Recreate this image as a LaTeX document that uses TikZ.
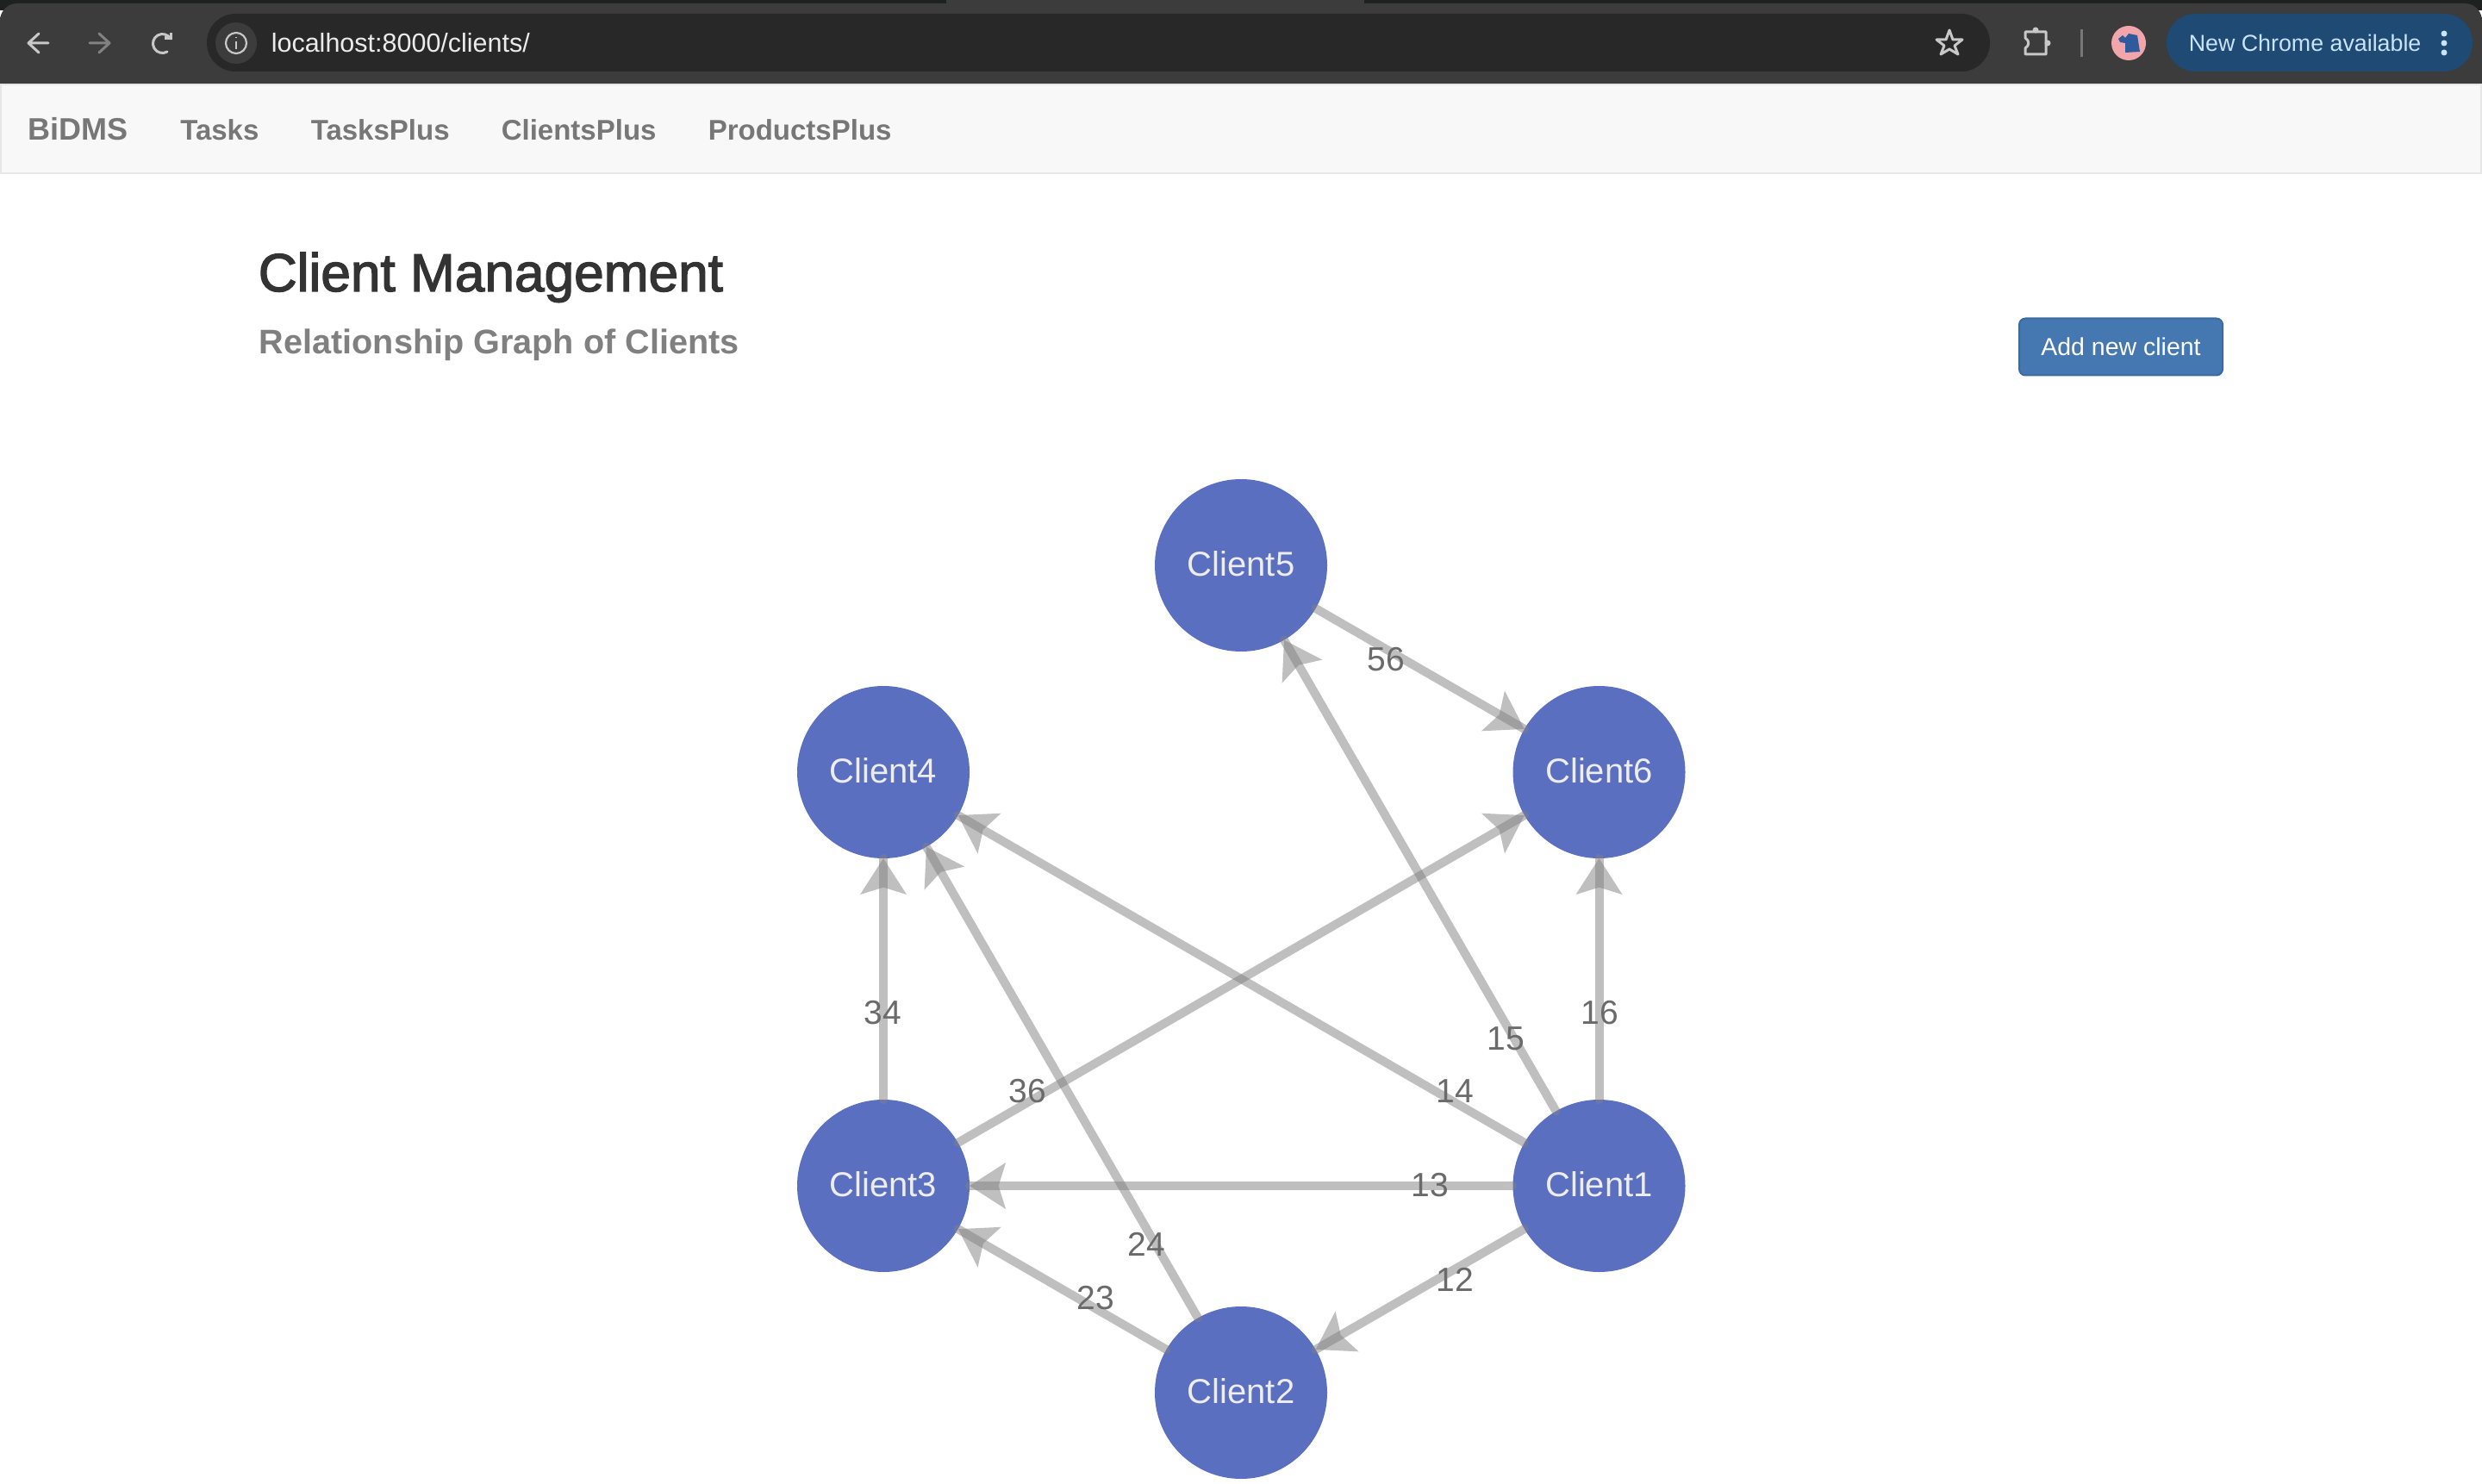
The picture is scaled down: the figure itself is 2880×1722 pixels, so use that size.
\documentclass[tikz,border=0pt]{standalone}
\usepackage{fontspec}
\setmainfont{Liberation Sans}
\newfontfamily\titlefont[FakeBold=2.2]{Liberation Sans}
\usetikzlibrary{arrows.meta,decorations.markings}
\definecolor{stripc}{HTML}{1F2120}
\definecolor{barc}{HTML}{3C3C3C}
\definecolor{urlc}{HTML}{282828}
\definecolor{navc}{HTML}{F8F8F8}
\definecolor{navb}{HTML}{E7E7E7}
\definecolor{navt}{HTML}{777777}
\definecolor{nodec}{HTML}{5A6FC0}
\definecolor{labelc}{HTML}{6A6A6A}
\definecolor{iconc}{HTML}{C8C8C8}
\definecolor{pillc}{HTML}{1E4A73}
\definecolor{pillt}{HTML}{C8E3FA}
\definecolor{btnc}{HTML}{4577B0}
\definecolor{btnb}{HTML}{3B6A9E}
\definecolor{avatarc}{HTML}{F2A5AB}
\definecolor{elephc}{HTML}{2F5A9C}
\newcommand{\pxf}[1]{\fontsize{\dimexpr#1pt/4\relax}{\dimexpr#1pt/4\relax}\selectfont}
\tikzset{
  client/.style={circle,fill=nodec,text=white!93!black,inner sep=0pt,outer sep=0pt,minimum size=50pt,text height=7.3pt,text depth=1pt,font=\pxf{40}},
  edgelabel/.style={text=labelc,inner sep=0pt,font=\pxf{39}},
  edge/.style={draw=gray,draw opacity=.5,line width=2.5pt,line cap=round,
    postaction={decorate,decoration={markings,mark=at position 0.9999 with
      {\fill[gray,opacity=.5] (0pt,0pt) -- (-10.5pt,6.75pt) -- (-8.4pt,0pt) -- (-10.5pt,-6.75pt) -- cycle;}}}},
  navitem/.style={anchor=base west,text=navt,inner sep=0pt,font=\bfseries\pxf{33}},
  icon/.style={draw=iconc,line width=.75pt,line cap=round,line join=round},
}
\begin{document}
\begin{tikzpicture}[x=.25pt,y=-.25pt]
\useasboundingbox (0,0) rectangle (2880,1722);
\fill[white] (0,0) rectangle (2880,1722);
% browser chrome
\fill[stripc] (0,0) rectangle (1098,12);
\fill[stripc] (1583,0) rectangle (2880,12);
\fill[barc,rounded corners=5pt] (0,4) rectangle (2880,40);
\fill[barc] (0,20) rectangle (2880,97);
\fill[barc] (1098,0) rectangle (1583,20);
\fill[navb] (0,97) rectangle (2880,99);
\fill[urlc,rounded corners=8.3pt] (240,16) rectangle (2309,83);
\fill[barc] (274,50) circle[radius=24];
\draw[iconc,line width=.55pt] (274,50) circle[radius=12];
\draw[iconc,line width=.6pt] (274,48) -- (274,57) (274,43) -- (274,44);
\draw[icon] (56,50) -- (33,50) (45,39) -- (33,50) -- (45,61);
\draw[icon,draw=iconc!50!barc] (104,50) -- (127,50) (115,39) -- (127,50) -- (115,61);
\draw[icon] (198,45) arc[start angle=-30,end angle=-300,radius=11];
\fill[iconc] (191,42) rectangle (200,46);
\fill[iconc] (197,38) rectangle (200,46);
\node[anchor=base west,inner sep=0pt,text=white!92!black,font=\pxf{30.5}] (url) at (314,61) {localhost:8000/clients/};
\draw[icon] (2262,35) -- (2266,46) -- (2277,46) -- (2268,53) -- (2272,63) -- (2262,57) -- (2252,63) -- (2256,53) -- (2247,46) -- (2258,46) -- cycle;
\draw[icon] (2350,37) -- (2374,37) -- (2374,63) -- (2350,63) -- (2350,56) .. controls (2355,53) and (2355,47) .. (2350,44) -- cycle;
\fill[iconc] (2362,35) circle[radius=3.5];
\fill[iconc] (2376,50) circle[radius=3.5];
\fill[barc!70!white] (2414,34) rectangle (2417,66);
\fill[avatarc] (2470,50) circle[radius=20];
\fill[elephc] (2458,45) -- (2463,41) -- (2466,44) -- (2470,39) -- (2480,41) -- (2483,60) -- (2466,61) -- (2466,50) -- (2460,49) -- cycle;
\fill[pillc,rounded corners=8.3pt] (2514,16) rectangle (2869,83);
\node[anchor=base west,inner sep=0pt,text=pillt,font=\pxf{26.8}] (chrome) at (2539,60) {New Chrome available};
\fill[pillt] (2836,39) circle[radius=3.5] (2836,50) circle[radius=3.5] (2836,61) circle[radius=3.5];
% navigation bar
\fill[navb] (0,99) rectangle (2880,202);
\fill[navc] (2,99) rectangle (2878,200);
\node[navitem,font=\bfseries\pxf{36}] (brand) at (32,163) {BiDMS};
\node[navitem] (n1) at (208.5,163) {Tasks};
\node[navitem] (n2) at (360,163) {TasksPlus};
\node[navitem] (n3) at (581,163) {ClientsPlus};
\node[navitem] (n4) at (821,163) {ProductsPlus};
% heading
\node[anchor=base west,inner sep=0pt,text=black!80,font=\titlefont\pxf{62.2}] (title) at (299,338) {Client Management};
\node[anchor=base west,inner sep=0pt,text=black!50,font=\bfseries\pxf{39.6}] (sub) at (300,411) {Relationship Graph of Clients};
\node[draw=btnb,fill=btnc,rounded corners=1.8pt,line width=.5pt,minimum width=59pt,minimum height=16.5pt,inner sep=0pt,text=white,font=\pxf{28.5}] (btn) at (2461,402.5) {Add new client};
% graph
\node[client] (c1) at (1855.5,1376) {Client1};
\node[client] (c2) at (1440,1616) {Client2};
\node[client] (c3) at (1025,1376) {Client3};
\node[client] (c4) at (1025,896) {Client4};
\node[client] (c5) at (1440,656) {Client5};
\node[client] (c6) at (1855.5,896) {Client6};
\draw[edge] (c1) -- (c2);
\draw[edge] (c1) -- (c3);
\draw[edge] (c1) -- (c4);
\draw[edge] (c1) -- (c5);
\draw[edge] (c1) -- (c6);
\draw[edge] (c2) -- (c3);
\draw[edge] (c2) -- (c4);
\draw[edge] (c3) -- (c4);
\draw[edge] (c3) -- (c6);
\draw[edge] (c5) -- (c6);
\node[edgelabel] (l12) at (1688,1485) {12};
\node[edgelabel] (l13) at (1659,1375) {13};
\node[edgelabel] (l14) at (1688,1266) {14};
\node[edgelabel] (l15) at (1747,1205) {15};
\node[edgelabel] (l16) at (1856,1175) {16};
\node[edgelabel] (l23) at (1271,1506) {23};
\node[edgelabel] (l24) at (1330,1444) {24};
\node[edgelabel] (l34) at (1024,1175) {34};
\node[edgelabel] (l36) at (1192,1266) {36};
\node[edgelabel] (l56) at (1608,765) {56};
\end{tikzpicture}
\end{document}
